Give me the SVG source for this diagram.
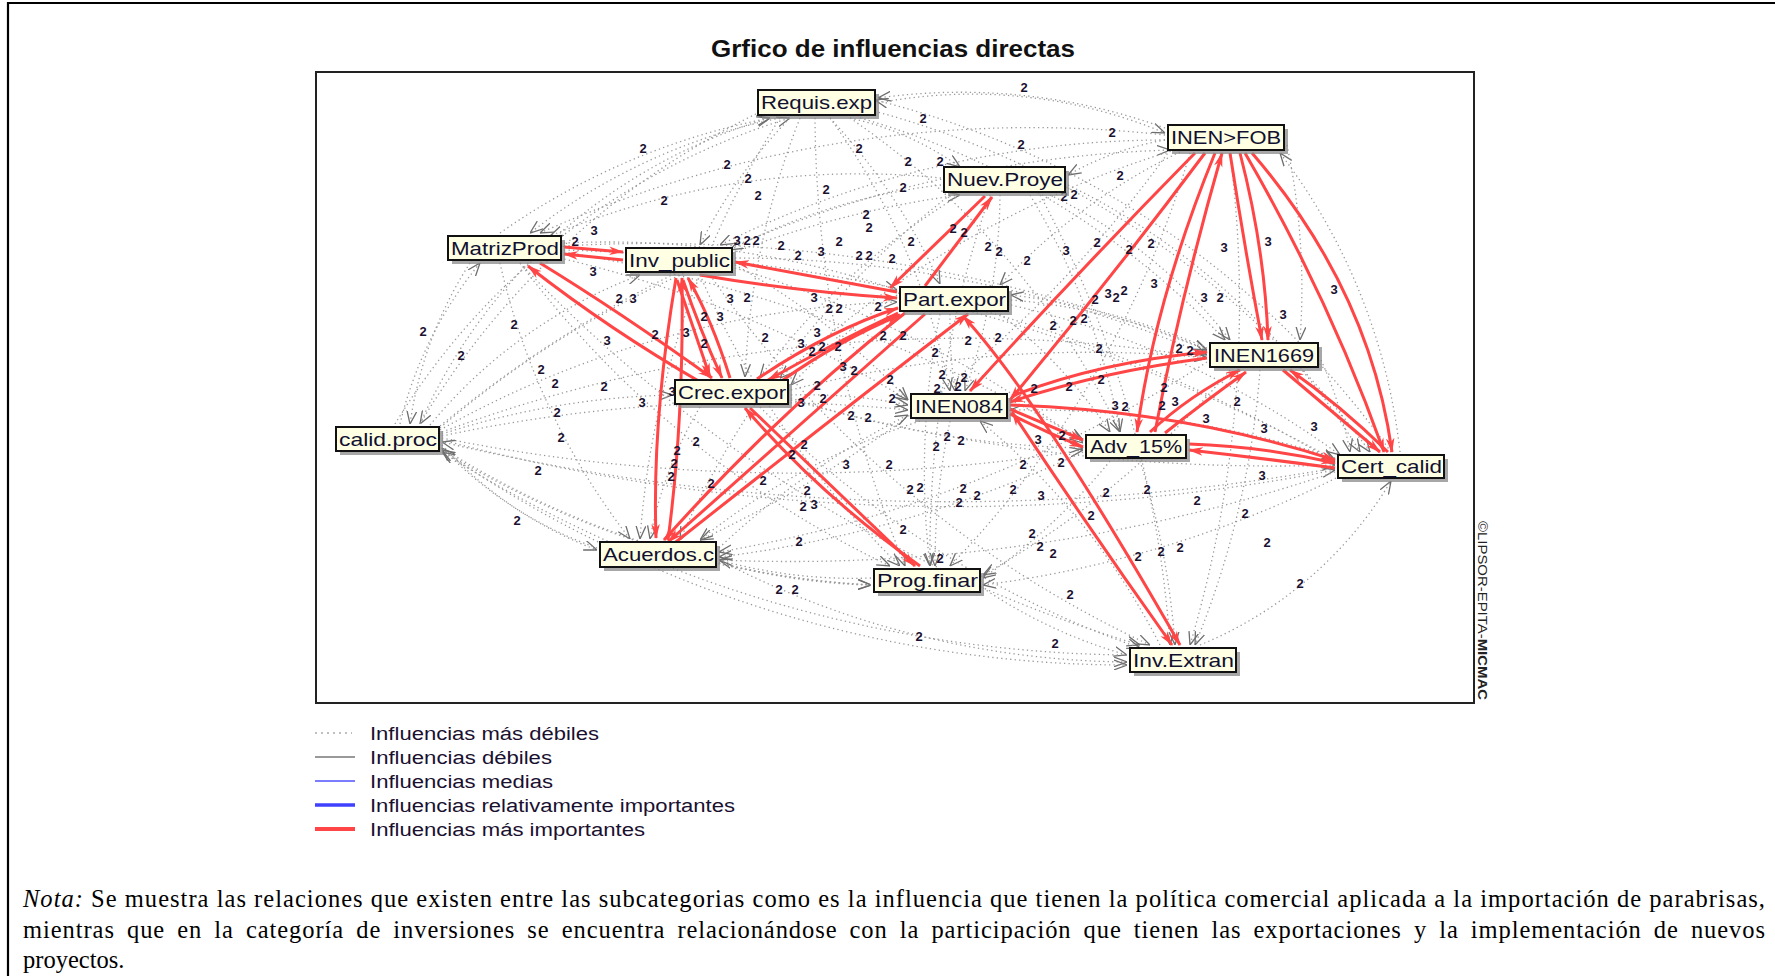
<svg xmlns="http://www.w3.org/2000/svg" width="1775" height="976" viewBox="0 0 1775 976">
<style>
.box{fill:#ffffe4;stroke:#111;stroke-width:2}
.sh{fill:#8a8a8a;opacity:.75}
.lbl{font-family:"Liberation Sans",Arial,sans-serif;font-size:19px;fill:#101030}
.d{fill:none;stroke:#999;stroke-width:1.3;stroke-dasharray:1.3 3.2;marker-end:url(#ga)}
.r{fill:none;stroke:#ff4545;stroke-width:3;marker-end:url(#ra)}
.rb{marker-start:url(#ra)}
.n{font-family:"Liberation Sans",Arial,sans-serif;font-size:13px;font-weight:bold;fill:#1a1030;text-anchor:middle}
.lg{font-family:"Liberation Sans",Arial,sans-serif;font-size:18px;fill:#1a1030}
.nota{font-family:"Liberation Serif","Times New Roman",serif;font-size:24.5px;fill:#000}
</style>
<defs>
<marker id="ra" viewBox="0 0 14 8" refX="13" refY="4" markerWidth="15" markerHeight="9" markerUnits="userSpaceOnUse" orient="auto-start-reverse"><path d="M0,0 L14,4 L0,8 L4,4 z" fill="#ff4545"/></marker>
<marker id="ga" viewBox="0 0 12 10" refX="12" refY="5" markerWidth="13" markerHeight="11" markerUnits="userSpaceOnUse" orient="auto"><path d="M0,0.5 L12,5 L0,9.5" fill="none" stroke="#6e6e6e" stroke-width="1.2"/></marker>
</defs>
<rect width="1775" height="976" fill="#fff"/>
<path d="M8,976 V3 H1775" fill="none" stroke="#000" stroke-width="2.2"/>
<text x="711" y="57" textLength="364" lengthAdjust="spacingAndGlyphs" style="font-family:'Liberation Sans',Arial,sans-serif;font-size:24px;font-weight:bold;fill:#111">Grfico de influencias directas</text>
<rect x="316" y="72" width="1158" height="631" fill="#fff" stroke="#222" stroke-width="2"/>
<text transform="translate(1478,521) rotate(90)" textLength="179" lengthAdjust="spacingAndGlyphs" style="font-family:'Liberation Sans',Arial,sans-serif;font-size:13px;fill:#222">©LIPSOR-EPITA-<tspan font-weight="bold">MICMAC</tspan></text>

<g id="connectors">
<g id="weak">
<path class="d" d="M395,424 A700 700 0 0 1 790,118"/>
<path class="d" d="M878,103 A500 500 0 0 1 1165,133"/>
<path class="d" d="M442,445 A400 400 0 0 0 597,550"/>
<path class="d" d="M719,560 A900 900 0 0 0 1127,662"/>
<path class="d" d="M1200,645 A400 400 0 0 0 1391,481"/>
<path class="d" d="M442,450 A1200 1200 0 0 0 1127,665"/>
<path class="d" d="M442,448 A900 900 0 0 0 871,585"/>
<path class="d" d="M442,440 A2000 2000 0 0 0 1335,470"/>
<path class="d" d="M442,438 A1800 1800 0 0 0 1083,450"/>
<path class="d" d="M442,436 A1500 1500 0 0 1 908,410"/>
<path class="d" d="M442,434 A800 800 0 0 1 672,395"/>
<path class="d" d="M440,430 A1000 1000 0 0 1 897,302"/>
<path class="d" d="M430,425 A500 500 0 0 1 640,275"/>
<path class="d" d="M400,424 A400 400 0 0 1 480,263"/>
<path class="d" d="M442,432 A1500 1500 0 0 1 1207,358"/>
<path class="d" d="M440,428 A1000 1000 0 0 1 960,195"/>
<path class="d" d="M440,426 A1200 1200 0 0 1 1170,150"/>
<path class="d" d="M780,118 A600 600 0 0 0 530,233"/>
<path class="d" d="M790,118 A500 500 0 0 0 700,245"/>
<path class="d" d="M800,118 A800 800 0 0 0 745,377"/>
<path class="d" d="M830,118 A600 600 0 0 1 940,284"/>
<path class="d" d="M850,118 A300 300 0 0 1 960,167"/>
<path class="d" d="M830,118 A700 700 0 0 1 950,391"/>
<path class="d" d="M860,118 A800 800 0 0 1 1225,340"/>
<path class="d" d="M850,118 A800 800 0 0 1 1120,432"/>
<path class="d" d="M870,110 A900 900 0 0 1 1370,452"/>
<path class="d" d="M780,118 A900 900 0 0 0 640,539"/>
<path class="d" d="M815,118 A1200 1200 0 0 0 905,566"/>
<path class="d" d="M760,112 A800 800 0 0 0 420,424"/>
<path class="d" d="M1165,140 A300 300 0 0 0 1068,175"/>
<path class="d" d="M1165,135 A1200 1200 0 0 0 540,233"/>
<path class="d" d="M1165,140 A1000 1000 0 0 0 720,245"/>
<path class="d" d="M1180,152 A600 600 0 0 0 1000,285"/>
<path class="d" d="M1175,150 A1000 1000 0 0 0 780,378"/>
<path class="d" d="M1170,150 A1200 1200 0 0 1 700,540"/>
<path class="d" d="M1190,153 A1000 1000 0 0 1 950,566"/>
<path class="d" d="M1230,153 A1200 1200 0 0 1 1190,645"/>
<path class="d" d="M941,178 A800 800 0 0 0 550,236"/>
<path class="d" d="M941,185 A600 600 0 0 0 730,250"/>
<path class="d" d="M960,195 A700 700 0 0 0 760,377"/>
<path class="d" d="M1000,195 A600 600 0 0 1 965,391"/>
<path class="d" d="M1050,195 A500 500 0 0 1 1230,340"/>
<path class="d" d="M1030,195 A700 700 0 0 1 1120,432"/>
<path class="d" d="M1068,185 A700 700 0 0 1 1360,452"/>
<path class="d" d="M950,195 A900 900 0 0 0 680,540"/>
<path class="d" d="M990,195 A1100 1100 0 0 0 930,566"/>
<path class="d" d="M1040,195 A1100 1100 0 0 1 1170,645"/>
<path class="d" d="M564,243 A900 900 0 0 1 897,290"/>
<path class="d" d="M560,258 A1200 1200 0 0 1 908,400"/>
<path class="d" d="M500,263 A700 700 0 0 0 630,539"/>
<path class="d" d="M520,263 A1000 1000 0 0 0 890,566"/>
<path class="d" d="M564,252 A1500 1500 0 0 1 1083,440"/>
<path class="d" d="M564,250 A1700 1700 0 0 1 1335,460"/>
<path class="d" d="M520,263 A1400 1400 0 0 0 1140,645"/>
<path class="d" d="M564,246 A1500 1500 0 0 1 1207,350"/>
<path class="d" d="M735,265 A700 700 0 0 1 908,400"/>
<path class="d" d="M735,258 A1200 1200 0 0 1 1207,355"/>
<path class="d" d="M735,268 A1100 1100 0 0 1 1083,443"/>
<path class="d" d="M735,262 A1500 1500 0 0 1 1335,462"/>
<path class="d" d="M700,275 A900 900 0 0 0 900,566"/>
<path class="d" d="M710,275 A1100 1100 0 0 0 1150,645"/>
<path class="d" d="M1011,300 A600 600 0 0 1 1207,350"/>
<path class="d" d="M1000,314 A500 500 0 0 1 1110,432"/>
<path class="d" d="M1011,305 A900 900 0 0 1 1340,455"/>
<path class="d" d="M940,314 A800 800 0 0 0 930,566"/>
<path class="d" d="M950,314 A500 500 0 0 0 955,391"/>
<path class="d" d="M791,395 A500 500 0 0 1 908,405"/>
<path class="d" d="M791,390 A1200 1200 0 0 1 1207,358"/>
<path class="d" d="M791,398 A1000 1000 0 0 0 1083,448"/>
<path class="d" d="M791,400 A1800 1800 0 0 0 1335,465"/>
<path class="d" d="M700,407 A400 400 0 0 0 650,539"/>
<path class="d" d="M760,407 A1000 1000 0 0 0 1140,648"/>
<path class="d" d="M950,421 A700 700 0 0 0 935,566"/>
<path class="d" d="M920,421 A700 700 0 0 0 700,540"/>
<path class="d" d="M1207,362 A1300 1300 0 0 1 719,552"/>
<path class="d" d="M1230,370 A900 900 0 0 1 983,575"/>
<path class="d" d="M1260,370 A900 900 0 0 1 1195,645"/>
<path class="d" d="M1083,452 A1200 1200 0 0 1 719,557"/>
<path class="d" d="M1110,461 A600 600 0 0 1 983,578"/>
<path class="d" d="M1140,461 A800 800 0 0 1 1175,645"/>
<path class="d" d="M1335,472 A1700 1700 0 0 1 719,560"/>
<path class="d" d="M1340,476 A1100 1100 0 0 1 983,585"/>
<path class="d" d="M1335,458 A1000 1000 0 0 0 1010,410"/>
<path class="d" d="M871,578 A500 500 0 0 1 719,560"/>
<path class="d" d="M983,588 A500 500 0 0 0 1127,655"/>
<path class="d" d="M719,562 A600 600 0 0 0 871,585"/>
<path class="d" d="M500,233 A700 700 0 0 1 770,118"/>
<path class="d" d="M1391,452 A900 900 0 0 0 875,100"/>
<path class="d" d="M1400,452 A600 600 0 0 0 1280,153"/>
<path class="d" d="M1160,645 A700 700 0 0 0 980,421"/>
<path class="d" d="M597,548 A400 400 0 0 1 442,448"/>
<path class="d" d="M1127,655 A1300 1300 0 0 1 442,452"/>
<path class="d" d="M871,585 A900 900 0 0 1 442,450"/>
<path class="d" d="M420,424 A550 550 0 0 1 770,118"/>
<path class="d" d="M470,263 A400 400 0 0 0 410,424"/>
<path class="d" d="M1335,468 A2200 2200 0 0 1 442,442"/>
<path class="d" d="M1165,128 A600 600 0 0 0 878,98"/>
<path class="d" d="M1287,145 A700 700 0 0 1 1300,340"/>
<path class="d" d="M1321,360 A400 400 0 0 1 1350,452"/>
<path class="d" d="M719,548 A800 800 0 0 1 908,415"/>
<path class="d" d="M897,295 A700 700 0 0 0 791,385"/>
<path class="d" d="M1207,348 A700 700 0 0 0 1011,295"/>
</g>
<g id="strong">
<path class="r" d="M564,247 L623,252"/>
<path class="r" d="M623,260 L564,254"/>
<path class="r" d="M897,292 L735,262"/>
<path class="r" d="M700,275 Q800,292 897,298"/>
<path class="r" d="M540,263 Q620,312 712,378"/>
<path class="r" d="M702,383 Q610,330 528,266"/>
<path class="r" d="M677,280 L710,377"/>
<path class="r" d="M683,280 Q700,330 722,378"/>
<path class="r" d="M730,378 Q712,320 688,278"/>
<path class="r" d="M676,278 Q652,420 656,538"/>
<path class="r" d="M668,540 Q684,420 682,278"/>
<path class="r" d="M757,379 Q830,330 898,308"/>
<path class="r" d="M898,313 Q830,345 768,380"/>
<path class="r" d="M783,380 Q840,340 900,315"/>
<path class="r" d="M905,313 Q780,410 664,540"/>
<path class="r" d="M925,314 Q800,425 668,542"/>
<path class="r" d="M672,545 Q830,420 968,314"/>
<path class="r" d="M750,408 Q830,485 915,566"/>
<path class="r" d="M920,566 Q820,495 745,408"/>
<path class="r" d="M1195,153 Q1080,270 970,391"/>
<path class="r" d="M1205,153 Q1110,280 1010,400"/>
<path class="r" d="M1215,153 Q1155,300 1137,432"/>
<path class="r" d="M1155,432 Q1180,300 1222,153"/>
<path class="r" d="M1230,153 Q1245,250 1262,340"/>
<path class="r" d="M1240,153 Q1265,250 1268,340"/>
<path class="r" d="M1245,153 Q1330,300 1384,452"/>
<path class="r" d="M1252,153 Q1370,290 1392,452"/>
<path class="r" d="M1207,358 Q1100,372 1010,402"/>
<path class="r" d="M1012,396 Q1100,362 1207,352"/>
<path class="r" d="M1010,409 L1083,440"/>
<path class="r" d="M1010,414 Q1045,432 1083,447"/>
<path class="r" d="M1010,405 Q1180,410 1335,460"/>
<path class="r" d="M1189,444 Q1260,446 1335,463"/>
<path class="r" d="M1335,468 Q1260,458 1189,450"/>
<path class="r" d="M1150,432 Q1190,395 1240,370"/>
<path class="r" d="M1165,433 Q1200,405 1246,372"/>
<path class="r" d="M1283,370 Q1330,410 1380,452"/>
<path class="r" d="M1388,452 Q1340,405 1290,370"/>
<path class="r rb" d="M1012,412 Q1090,530 1172,645"/>
<path class="r rb" d="M963,316 Q1040,400 1180,645"/>
<path class="r" d="M985,196 L890,288"/>
<path class="r" d="M925,286 L992,197"/>
</g>
</g>

<g id="values">
<text class="n" x="1024" y="92">2</text><text class="n" x="923" y="123">2</text><text class="n" x="643" y="153">2</text>
<text class="n" x="727" y="169">2</text><text class="n" x="748" y="183">2</text><text class="n" x="758" y="200">2</text>
<text class="n" x="859" y="153">2</text><text class="n" x="908" y="166">2</text><text class="n" x="940" y="166">2</text>
<text class="n" x="1021" y="149">2</text><text class="n" x="1112" y="137">2</text><text class="n" x="1120" y="180">2</text>
<text class="n" x="826" y="194">2</text><text class="n" x="903" y="192">2</text><text class="n" x="664" y="205">2</text>
<text class="n" x="866" y="219">2</text><text class="n" x="869" y="232">2</text><text class="n" x="1064" y="201">2</text><text class="n" x="1074" y="199">2</text>
<text class="n" x="594" y="235">3</text><text class="n" x="575" y="246">2</text>
<text class="n" x="737" y="245">3</text><text class="n" x="747" y="245">2</text><text class="n" x="756" y="245">2</text>
<text class="n" x="781" y="250">2</text><text class="n" x="798" y="260">2</text><text class="n" x="821" y="256">3</text><text class="n" x="839" y="246">2</text>
<text class="n" x="859" y="260">2</text><text class="n" x="869" y="260">2</text><text class="n" x="911" y="246">2</text>
<text class="n" x="953" y="233">2</text><text class="n" x="964" y="237">2</text><text class="n" x="892" y="263">2</text>
<text class="n" x="988" y="251">2</text><text class="n" x="999" y="256">2</text><text class="n" x="1027" y="265">2</text>
<text class="n" x="1066" y="255">3</text><text class="n" x="1097" y="247">2</text><text class="n" x="1129" y="254">2</text><text class="n" x="1151" y="248">2</text>
<text class="n" x="593" y="276">3</text><text class="n" x="619" y="303">2</text><text class="n" x="633" y="303">3</text>
<text class="n" x="730" y="303">3</text><text class="n" x="747" y="302">2</text><text class="n" x="814" y="302">3</text>
<text class="n" x="829" y="313">2</text><text class="n" x="839" y="313">2</text><text class="n" x="878" y="311">2</text>
<text class="n" x="1154" y="288">3</text><text class="n" x="1204" y="302">3</text><text class="n" x="1220" y="302">2</text>
<text class="n" x="1095" y="304">2</text><text class="n" x="1108" y="298">3</text><text class="n" x="1116" y="302">2</text><text class="n" x="1124" y="295">2</text>
<text class="n" x="1224" y="252">3</text><text class="n" x="1268" y="246">3</text><text class="n" x="1283" y="319">3</text><text class="n" x="1334" y="294">3</text>
<text class="n" x="423" y="336">2</text><text class="n" x="514" y="329">2</text><text class="n" x="461" y="360">2</text><text class="n" x="607" y="345">3</text>
<text class="n" x="655" y="339">2</text><text class="n" x="686" y="337">3</text><text class="n" x="704" y="321">2</text><text class="n" x="720" y="321">3</text>
<text class="n" x="704" y="348">2</text><text class="n" x="765" y="342">2</text><text class="n" x="801" y="348">3</text><text class="n" x="817" y="337">3</text>
<text class="n" x="812" y="356">2</text><text class="n" x="822" y="351">2</text><text class="n" x="838" y="351">2</text>
<text class="n" x="883" y="340">2</text><text class="n" x="903" y="340">2</text><text class="n" x="935" y="357">2</text>
<text class="n" x="968" y="345">2</text><text class="n" x="998" y="342">2</text>
<text class="n" x="1053" y="330">2</text><text class="n" x="1073" y="325">2</text><text class="n" x="1084" y="323">2</text>
<text class="n" x="1099" y="353">2</text><text class="n" x="1179" y="353">2</text><text class="n" x="1190" y="355">2</text>
<text class="n" x="541" y="374">2</text><text class="n" x="555" y="388">2</text><text class="n" x="604" y="391">2</text>
<text class="n" x="642" y="407">3</text><text class="n" x="672" y="396">3</text>
<text class="n" x="843" y="371">3</text><text class="n" x="854" y="375">2</text><text class="n" x="817" y="390">2</text><text class="n" x="801" y="407">3</text>
<text class="n" x="890" y="384">2</text><text class="n" x="942" y="379">2</text><text class="n" x="964" y="382">2</text>
<text class="n" x="937" y="393">2</text><text class="n" x="958" y="391">2</text>
<text class="n" x="1034" y="393">2</text><text class="n" x="1069" y="391">2</text><text class="n" x="1101" y="384">2</text>
<text class="n" x="1115" y="410">3</text><text class="n" x="1125" y="411">2</text>
<text class="n" x="1164" y="392">2</text><text class="n" x="1175" y="406">3</text><text class="n" x="1162" y="410">2</text>
<text class="n" x="1206" y="423">3</text><text class="n" x="1237" y="406">2</text><text class="n" x="1264" y="433">3</text><text class="n" x="1314" y="431">3</text>
<text class="n" x="892" y="403">2</text><text class="n" x="557" y="417">2</text><text class="n" x="561" y="442">2</text><text class="n" x="696" y="446">2</text>
<text class="n" x="823" y="403">2</text><text class="n" x="851" y="420">2</text><text class="n" x="868" y="422">2</text>
<text class="n" x="947" y="441">2</text><text class="n" x="936" y="451">2</text><text class="n" x="961" y="445">2</text>
<text class="n" x="1038" y="444">3</text><text class="n" x="1062" y="440">2</text>
<text class="n" x="804" y="449">2</text><text class="n" x="792" y="459">2</text><text class="n" x="846" y="469">3</text><text class="n" x="889" y="469">2</text>
<text class="n" x="538" y="475">2</text><text class="n" x="677" y="455">2</text><text class="n" x="674" y="468">2</text><text class="n" x="671" y="481">2</text>
<text class="n" x="711" y="488">2</text><text class="n" x="763" y="485">2</text><text class="n" x="807" y="495">2</text>
<text class="n" x="803" y="511">2</text><text class="n" x="814" y="509">3</text>
<text class="n" x="910" y="494">2</text><text class="n" x="920" y="492">2</text>
<text class="n" x="963" y="493">2</text><text class="n" x="977" y="500">2</text><text class="n" x="959" y="507">2</text>
<text class="n" x="1013" y="494">2</text><text class="n" x="1041" y="500">3</text><text class="n" x="1023" y="469">2</text><text class="n" x="1061" y="467">2</text>
<text class="n" x="1106" y="497">2</text><text class="n" x="1147" y="494">2</text><text class="n" x="1197" y="505">2</text><text class="n" x="1262" y="480">3</text>
<text class="n" x="1091" y="520">2</text><text class="n" x="1245" y="518">2</text><text class="n" x="903" y="534">2</text><text class="n" x="799" y="546">2</text>
<text class="n" x="517" y="525">2</text>
<text class="n" x="1032" y="538">2</text><text class="n" x="1040" y="551">2</text><text class="n" x="1053" y="558">2</text>
<text class="n" x="1138" y="561">2</text><text class="n" x="1161" y="556">2</text><text class="n" x="1180" y="552">2</text>
<text class="n" x="1267" y="547">2</text><text class="n" x="779" y="594">2</text><text class="n" x="795" y="594">2</text>
<text class="n" x="1070" y="599">2</text><text class="n" x="1300" y="588">2</text><text class="n" x="940" y="563">2</text>
<text class="n" x="919" y="641">2</text><text class="n" x="1055" y="648">2</text>
</g>

<g id="node-requis"><rect class="sh" x="762" y="94" width="117" height="25"/><rect class="box" x="758" y="90" width="117" height="25"/><text class="lbl" x="761" y="109" textLength="111" lengthAdjust="spacingAndGlyphs">Requis.exp</text></g>
<g id="node-inenfob"><rect class="sh" x="1172" y="129" width="116" height="25"/><rect class="box" x="1168" y="125" width="116" height="25"/><text class="lbl" x="1171" y="144" textLength="110" lengthAdjust="spacingAndGlyphs">INEN&gt;FOB</text></g>
<g id="node-nuev"><rect class="sh" x="948" y="171" width="121" height="25"/><rect class="box" x="944" y="167" width="121" height="25"/><text class="lbl" x="947" y="186" textLength="116" lengthAdjust="spacingAndGlyphs">Nuev.Proye</text></g>
<g id="node-matriz"><rect class="sh" x="452" y="240" width="113" height="24"/><rect class="box" x="448" y="236" width="113" height="24"/><text class="lbl" x="451" y="255" textLength="108" lengthAdjust="spacingAndGlyphs">MatrizProd</text></g>
<g id="node-invpublic"><rect class="sh" x="630" y="252" width="106" height="24"/><rect class="box" x="626" y="248" width="106" height="24"/><text class="lbl" x="629" y="267" textLength="101" lengthAdjust="spacingAndGlyphs">Inv_public</text></g>
<g id="node-partexpor"><rect class="sh" x="904" y="291" width="108" height="24"/><rect class="box" x="900" y="287" width="108" height="24"/><text class="lbl" x="903" y="306" textLength="103" lengthAdjust="spacingAndGlyphs">Part.expor</text></g>
<g id="node-inen1669"><rect class="sh" x="1214" y="347" width="108" height="24"/><rect class="box" x="1210" y="343" width="108" height="24"/><text class="lbl" x="1214" y="362" textLength="100" lengthAdjust="spacingAndGlyphs">INEN1669</text></g>
<g id="node-crecexpor"><rect class="sh" x="679" y="384" width="113" height="24"/><rect class="box" x="675" y="380" width="113" height="24"/><text class="lbl" x="678" y="399" textLength="108" lengthAdjust="spacingAndGlyphs">Crec.expor</text></g>
<g id="node-inen084"><rect class="sh" x="915" y="398" width="96" height="24"/><rect class="box" x="911" y="394" width="96" height="24"/><text class="lbl" x="915" y="413" textLength="88" lengthAdjust="spacingAndGlyphs">INEN084</text></g>
<g id="node-calid"><rect class="sh" x="340" y="431" width="103" height="24"/><rect class="box" x="336" y="427" width="103" height="24"/><text class="lbl" x="339" y="446" textLength="98" lengthAdjust="spacingAndGlyphs">calid.proc</text></g>
<g id="node-adv"><rect class="sh" x="1090" y="439" width="100" height="23"/><rect class="box" x="1086" y="435" width="100" height="23"/><text class="lbl" x="1090" y="453" textLength="92" lengthAdjust="spacingAndGlyphs">Adv_15%</text></g>
<g id="node-cert"><rect class="sh" x="1342" y="459" width="106" height="23"/><rect class="box" x="1338" y="455" width="106" height="23"/><text class="lbl" x="1341" y="473" textLength="101" lengthAdjust="spacingAndGlyphs">Cert_calid</text></g>
<g id="node-acuerdos"><rect class="sh" x="604" y="546" width="116" height="25"/><rect class="box" x="600" y="542" width="116" height="25"/><text class="lbl" x="603" y="561" textLength="111" lengthAdjust="spacingAndGlyphs">Acuerdos.c</text></g>
<g id="node-prog"><rect class="sh" x="878" y="573" width="106" height="23"/><rect class="box" x="874" y="569" width="106" height="23"/><text class="lbl" x="877" y="587" textLength="101" lengthAdjust="spacingAndGlyphs">Prog.finar</text></g>
<g id="node-invextran"><rect class="sh" x="1134" y="652" width="106" height="24"/><rect class="box" x="1130" y="648" width="106" height="24"/><text class="lbl" x="1133" y="667" textLength="101" lengthAdjust="spacingAndGlyphs">Inv.Extran</text></g>

<g id="legend">
<line x1="315" y1="733" x2="352" y2="733" stroke="#aaa" stroke-width="1.3" stroke-dasharray="2 4"/>
<line x1="315" y1="757" x2="355" y2="757" stroke="#777" stroke-width="1.5"/>
<line x1="315" y1="781" x2="355" y2="781" stroke="#5050ff" stroke-width="1.5"/>
<line x1="315" y1="805" x2="355" y2="805" stroke="#4040ff" stroke-width="3.5"/>
<line x1="315" y1="829" x2="355" y2="829" stroke="#ff4545" stroke-width="4"/>
<text class="lg" x="370" y="740" textLength="229" lengthAdjust="spacingAndGlyphs">Influencias más débiles</text>
<text class="lg" x="370" y="764" textLength="182" lengthAdjust="spacingAndGlyphs">Influencias débiles</text>
<text class="lg" x="370" y="788" textLength="183" lengthAdjust="spacingAndGlyphs">Influencias medias</text>
<text class="lg" x="370" y="812" textLength="365" lengthAdjust="spacingAndGlyphs">Influencias relativamente importantes</text>
<text class="lg" x="370" y="836" textLength="275" lengthAdjust="spacingAndGlyphs">Influencias más importantes</text>
</g>

<g id="nota">
<text class="nota" x="23" y="907" textLength="1742" lengthAdjust="spacing"><tspan font-style="italic">Nota:</tspan> Se muestra las relaciones que existen entre las subcategorias como es la influencia que tienen la política comercial aplicada a la importación de parabrisas,</text>
<text class="nota" x="23" y="938" word-spacing="5" textLength="1742" lengthAdjust="spacing">mientras que en la categoría de inversiones se encuentra relacionándose con la participación que tienen las exportaciones y la implementación de nuevos</text>
<text class="nota" x="23" y="968">proyectos.</text>
</g>
</svg>
